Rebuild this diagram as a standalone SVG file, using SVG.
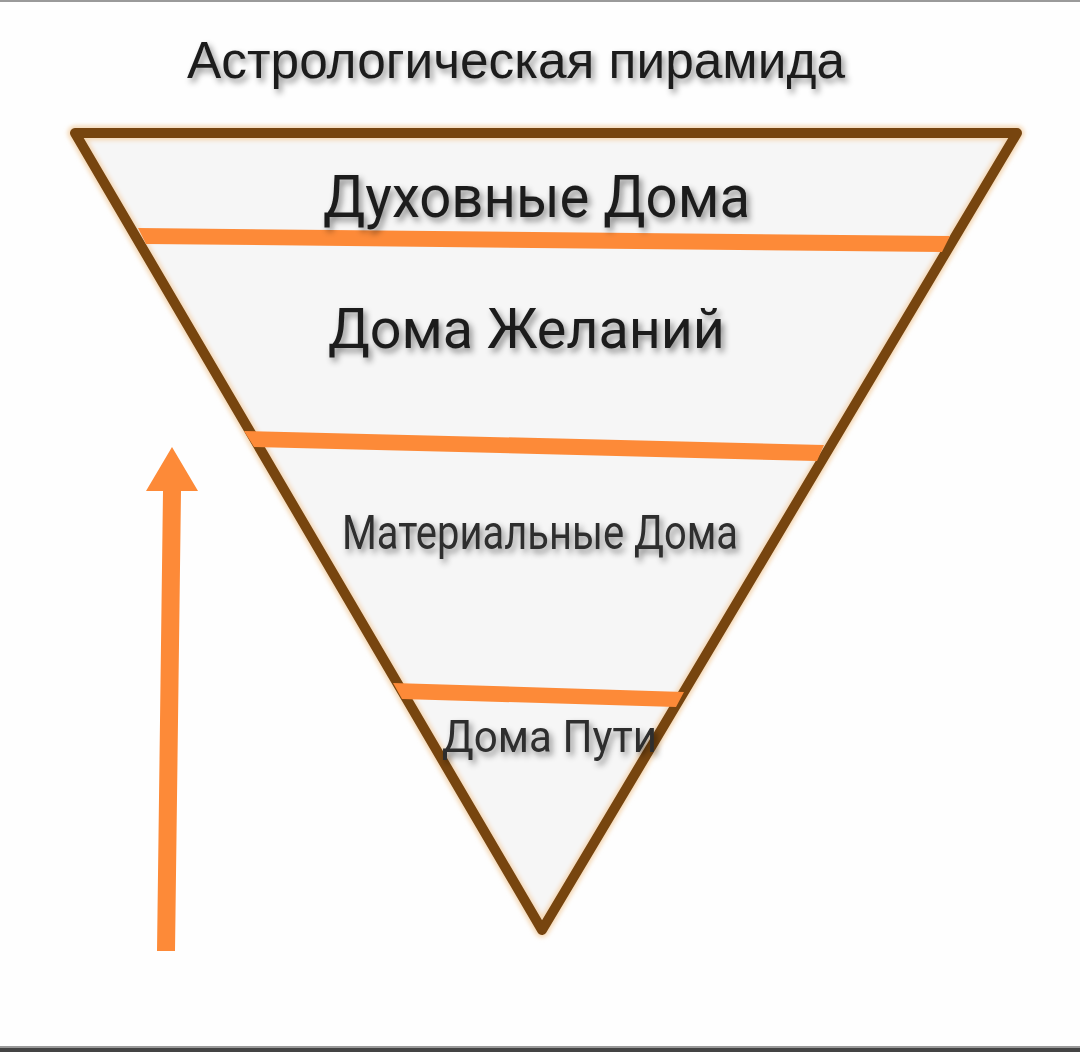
<svg xmlns="http://www.w3.org/2000/svg" width="1080" height="1052" viewBox="0 0 1080 1052">
  <style>
    .t { font-family: Roboto, "Noto Sans", "DejaVu Sans", sans-serif; fill: #1c1c1c; filter: url(#shadow); }
    .band { fill: #fd8a38; }
    .edge { fill: none; stroke-linejoin: round; }
  </style>
  <defs>
    <filter id="shadow" x="-10%" y="-30%" width="120%" height="170%">
      <feDropShadow dx="3" dy="4" stdDeviation="3" flood-color="#000" flood-opacity="0.45"/>
    </filter>
    <filter id="halo" x="-5%" y="-5%" width="110%" height="110%">
      <feGaussianBlur stdDeviation="2"/>
    </filter>
  </defs>
  <rect x="0" y="0" width="1080" height="1052" fill="#fefefe"/>
  <rect x="0" y="0" width="1080" height="2" fill="#9a9a9a"/>
  <rect x="0" y="1046" width="1080" height="3" fill="#9a9a9a"/>
  <rect x="0" y="1048" width="1080" height="4" fill="#444"/>

  <g id="pyramid">
    <polygon points="75,133 1017,133 542,930" fill="#f6f6f6" stroke="#f4d8b6" stroke-width="15" stroke-linejoin="round" filter="url(#halo)"/>
    <polygon class="edge" points="75,133 1017,133 542,930" stroke="#77450f" stroke-width="10"/>
  </g>

  <g id="bands">
    <polygon class="band" points="138,228 950,236 942,252 146,244"/>
    <polygon class="band" points="244,431 824,445 817,461 254,447"/>
    <polygon class="band" points="393,683 684,692 676,707 402,699"/>
  </g>

  <g id="title">
    <text class="t" x="187" y="78" font-size="52" textLength="658" lengthAdjust="spacingAndGlyphs" style="font-family:'Liberation Sans', Arial, sans-serif">Астрологическая пирамида</text>
  </g>
  <g id="spiritual">
    <text class="t" x="323" y="217" font-size="60" textLength="427" lengthAdjust="spacingAndGlyphs">Духовные Дома</text>
  </g>
  <g id="desires">
    <text class="t" x="328" y="348" font-size="56" textLength="397" lengthAdjust="spacingAndGlyphs">Дома Желаний</text>
  </g>
  <g id="material">
    <text class="t" x="342" y="549" font-size="48" textLength="396" lengthAdjust="spacingAndGlyphs" style="fill:#2e2e2e">Материальные Дома</text>
  </g>
  <g id="path">
    <text class="t" x="442" y="752" font-size="44" textLength="215" lengthAdjust="spacingAndGlyphs" style="fill:#2e2e2e">Дома Пути</text>
  </g>

  <g id="connectors">
    <polygon points="172,447 198,491 181,491 175,951 157,951 163,491 146,491" fill="#fd8a38"/>
  </g>
</svg>
